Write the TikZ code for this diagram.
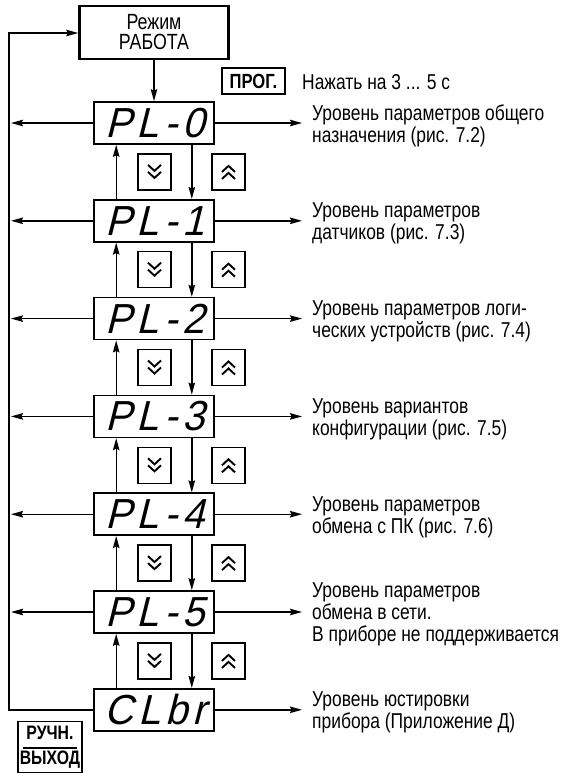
\documentclass[tikz,border=0pt]{standalone}
\usepackage{fontspec}
\setmainfont{Liberation Sans}[FakeStretch=0.81]
\newfontfamily\segfont{Liberation Sans}[FakeSlant=0.25,FakeStretch=0.95,LetterSpace=12]
\usetikzlibrary{arrows.meta,calc}
\begin{document}
\begin{tikzpicture}[x=1pt,y=-1pt,
  arr/.style={line width=1.4pt,-{Stealth[length=12pt,width=6.5pt,inset=1.5pt]}},
  disp/.style={draw,line width=1.6pt,minimum width=120pt,minimum height=42pt,inner sep=0pt,
    font=\segfont\fontsize{42}{42}\selectfont},
  btn/.style={draw,line width=1.5pt,minimum width=33pt,minimum height=36pt,inner sep=0pt},
  desc/.style={anchor=west,align=left,inner sep=0pt,font=\fontsize{21.5}{22}\selectfont},
  chevdn/.pic={\draw[line width=1.9pt,line join=miter] (-6.5,-7) -- (0,-1) -- (6.5,-7) (-6.5,0) -- (0,6) -- (6.5,0);},
  chevup/.pic={\draw[line width=1.9pt,line join=miter] (-6.5,7) -- (0,1) -- (6.5,7) (-6.5,0) -- (0,-6) -- (6.5,0);}
]
\useasboundingbox (0,0) rectangle (570,774);

% mode box
\node[draw,line width=2.5pt,minimum width=149pt,minimum height=53pt,inner sep=0pt,align=center,
  font=\fontsize{22}{20}\selectfont] (mode) at (154,32.5) {Режим\\РАБОТА};

% prog key
\node[draw,line width=1.6pt,minimum width=63pt,minimum height=26pt,inner sep=0pt,
  font=\bfseries\fontsize{20.5}{20}\selectfont] (prog) at (253.5,81) {ПРОГ.};
\node[desc] (press) at (302,82) {Нажать на 3 ... 5 с};

% displays
\foreach \i/\t in {0/PL-0,1/PL-1,2/PL-2,3/PL-3,4/PL-4,5/PL-5,6/CLbr}{
  \node[disp] (d\i) at (154,{123+97.8*\i}) {\t\kern-2pt};
  \coordinate (r\i) at (302,{123+97.8*\i});
  \draw[arr] (d\i.east) -- (r\i);
}
\foreach \i in {0,...,5}{
  \coordinate (l\i) at (11,{123+97.8*\i});
  \draw[arr] (d\i.west) -- (l\i);
}

% descriptions
\node[desc] (t0) at (312,126) {Уровень параметров общего\\назначения (рис. 7.2)};
\node[desc] (t1) at (312,{126+97.8}) {Уровень параметров\\датчиков (рис. 7.3)};
\node[desc] (t2) at (312,{126+2*97.8}) {Уровень параметров логи-\\ческих устройств (рис. 7.4)};
\node[desc] (t3) at (312,{126+3*97.8}) {Уровень вариантов\\конфигурации (рис. 7.5)};
\node[desc] (t4) at (312,{126+4*97.8}) {Уровень параметров\\обмена с ПК (рис. 7.6)};
\node[desc] (t5) at (312,{125+5*97.8}) {Уровень параметров\\обмена в сети.\\В приборе не поддерживается};
\node[desc] (t6) at (312,{126+6*97.8}) {Уровень юстировки\\прибора (Приложение Д)};

% navigation between levels
\foreach \i in {0,...,5}{
  \pgfmathtruncatemacro\j{\i+1}
  \draw[arr] ($(d\j.north west)+(23,0)$) -- ($(d\i.south west)+(23,0)$);
  \draw[arr] ($(d\i.south east)+(-23,0)$) -- ($(d\j.north east)+(-23,0)$);
  \node[btn] (bd\i) at (154.5,{123+97.8*\i+48.9}) {};
  \pic at (bd\i) {chevdn};
  \node[btn] (bu\i) at (228.5,{123+97.8*\i+48.9}) {};
  \pic at (bu\i) {chevup};
}

% mode -> PL-0
\draw[arr] (mode.south) -- (d0.north);

% return loop
\coordinate (cb) at (9,{123+6*97.8});
\coordinate (ct) at (9,33);
\draw[arr] (d6.west) -- (cb) -- (ct) -- (ct -| mode.west);

% manual exit key
\node[draw,line width=1.6pt,minimum width=64pt,minimum height=51pt,inner sep=0pt,align=center,
  font=\bfseries\fontsize{19.5}{25}\selectfont] (man) at (50,747) {РУЧН.\\ВЫХОД};
\draw[line width=1.3pt] ($(man.center)+(-27,1)$) -- ($(man.center)+(27,1)$);
\end{tikzpicture}
\end{document}
